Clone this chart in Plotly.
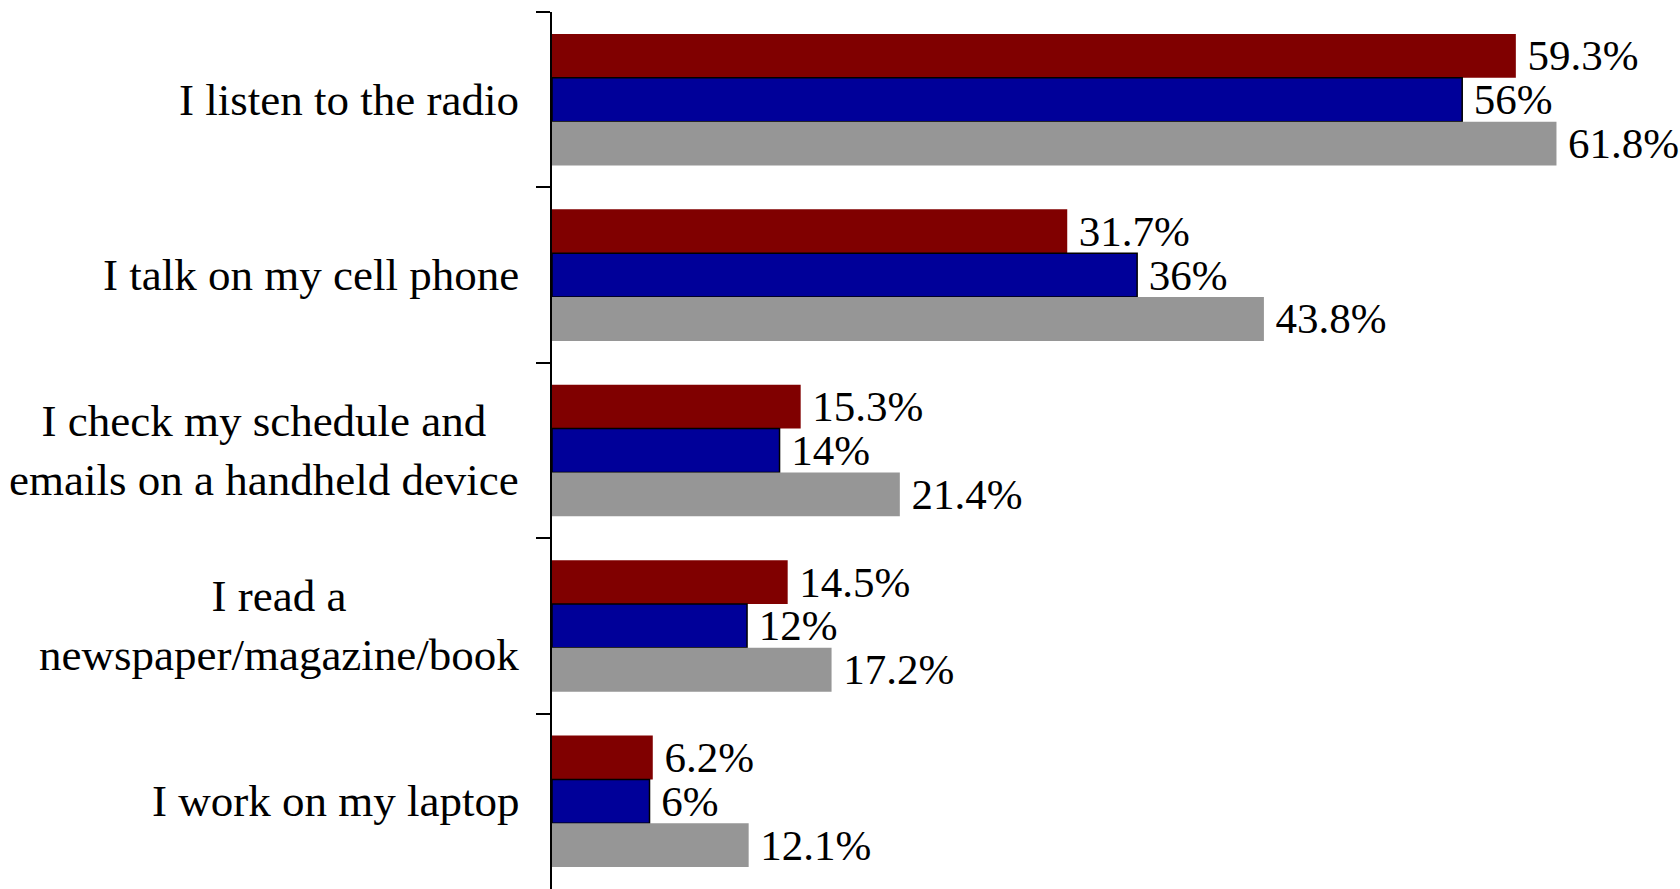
import plotly.graph_objects as go

# Activities, top to bottom
categories = [
    "I listen to the radio",
    "I talk on my cell phone",
    "I check my schedule and<br>emails on a handheld device",
    "I read a<br>newspaper/magazine/book",
    "I work on my laptop",
]

# Percent of respondents per group
red_values = [59.3, 31.7, 15.3, 14.5, 6.2]
blue_values = [56, 36, 14, 12, 6]
grey_values = [61.8, 43.8, 21.4, 17.2, 12.1]

FONT = "Liberation Serif"
CAT_SIZE = 45
VALUE_SIZE = 43

series = [
    ("Group 1", red_values, "#800000", dict(width=0)),
    ("Group 2", blue_values, "#000099", dict(color="black", width=1.5)),
    ("Group 3", grey_values, "#969696", dict(width=0)),
]

fig = go.Figure()
for name, vals, color, line in series:
    fig.add_trace(go.Bar(
        name=name,
        y=categories,
        x=vals,
        orientation="h",
        marker=dict(color=color, line=line),
        text=["\u2009" + f"{v:g}%" for v in vals],
        textposition="outside",
        constraintext="none",
        cliponaxis=False,
        textfont=dict(family=FONT, size=VALUE_SIZE, color="black"),
        showlegend=False,
    ))

# Category labels left of the axis, wrapped lines centred on each other
for cat in categories:
    fig.add_annotation(
        x=0, xref="paper", y=cat, yref="y",
        text=cat, showarrow=False,
        xanchor="right", xshift=-31, align="center",
        font=dict(family=FONT, size=CAT_SIZE, color="black"),
    )

fig.update_layout(
    width=1680, height=889,
    margin=dict(l=552, r=0, t=12, b=0),
    barmode="group",
    bargap=0.25,
    bargroupgap=0,
    plot_bgcolor="white",
    paper_bgcolor="white",
    xaxis=dict(range=[0, 69.4], visible=False),
    yaxis=dict(
        autorange="reversed",
        showticklabels=False,
        showline=True, linecolor="black", linewidth=2,
        ticks="outside", ticklen=14, tickwidth=2, tickcolor="black",
        tickson="boundaries",
        showgrid=False, zeroline=False,
    ),
)

fig.write_html("out.html")
